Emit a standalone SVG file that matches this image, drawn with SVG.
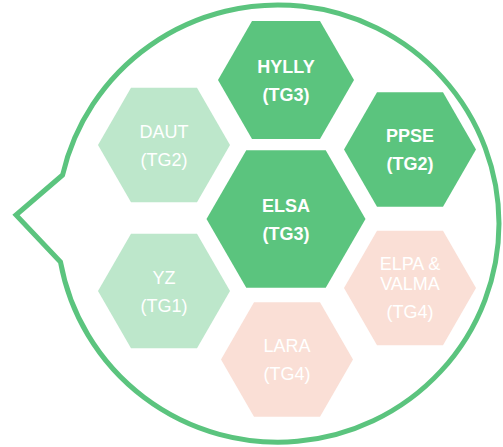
<svg xmlns="http://www.w3.org/2000/svg" width="503" height="447" viewBox="0 0 503 447">
  <style>
    .bubble { fill: #ffffff; stroke: #5bc47e; stroke-width: 5; stroke-linejoin: miter; }
    .dark { fill: #5bc47e; }
    .light { fill: #bde7cb; }
    .pink { fill: #fadfd6; }
    .lbl { font-family: "Liberation Sans", Arial, sans-serif; font-size: 18px; fill: #ffffff; text-anchor: middle; }
    .bold { font-weight: bold; }
  </style>

  <!-- speech bubble outline with pointer on the left -->
  <path class="bubble" d="M 62.6,175 L 16,215 L 60.5,262 A 221 219 0 0 0 499,223.5 A 221 219 0 0 0 62.6,175 Z"/>

  <g id="connectors"></g>

  <g id="hylly">
    <polygon class="dark" points="218,80 252,21.1 320,21.1 354,80 320,138.9 252,138.9"/>
    <text class="lbl bold" x="286" y="72.5">HYLLY</text>
    <text class="lbl bold" x="286" y="100.5">(TG3)</text>
  </g>

  <g id="elsa">
    <polygon class="dark" points="206.5,219 246.25,150.15 325.75,150.15 365.5,219 325.75,287.85 246.25,287.85"/>
    <text class="lbl bold" x="286" y="211.5">ELSA</text>
    <text class="lbl bold" x="286" y="239.5">(TG3)</text>
  </g>

  <g id="ppse">
    <polygon class="dark" points="344,149.5 377,92.34 443,92.34 476,149.5 443,206.66 377,206.66"/>
    <text class="lbl bold" x="410" y="142">PPSE</text>
    <text class="lbl bold" x="410" y="170">(TG2)</text>
  </g>

  <g id="daut">
    <polygon class="light" points="98,145 131,87.84 197,87.84 230,145 197,202.16 131,202.16"/>
    <text class="lbl" x="164" y="138">DAUT</text>
    <text class="lbl" x="164" y="166">(TG2)</text>
  </g>

  <g id="yz">
    <polygon class="light" points="98,291 131,233.84 197,233.84 230,291 197,348.16 131,348.16"/>
    <text class="lbl" x="164" y="283.5">YZ</text>
    <text class="lbl" x="164" y="311.5">(TG1)</text>
  </g>

  <g id="elpa-valma">
    <polygon class="pink" points="344,288 377,230.84 443,230.84 476,288 443,345.16 377,345.16"/>
    <text class="lbl" x="410" y="270">ELPA &amp;</text>
    <text class="lbl" x="410" y="290">VALMA</text>
    <text class="lbl" x="410" y="318">(TG4)</text>
  </g>

  <g id="lara">
    <polygon class="pink" points="221,359.5 254,302.34 320,302.34 353,359.5 320,416.66 254,416.66"/>
    <text class="lbl" x="287" y="352">LARA</text>
    <text class="lbl" x="287" y="379.5">(TG4)</text>
  </g>
</svg>
